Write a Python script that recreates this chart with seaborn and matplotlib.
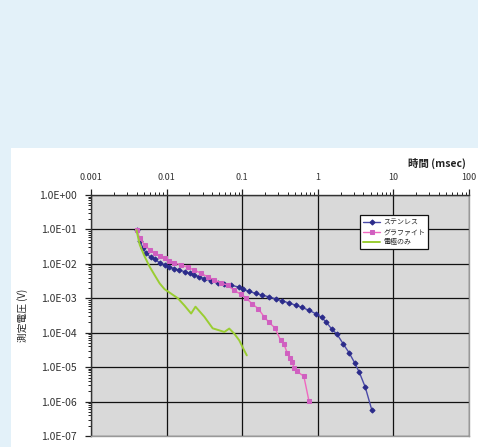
import matplotlib
matplotlib.use("Agg")
import matplotlib.pyplot as plt
import matplotlib.ticker as mticker
from matplotlib.patches import Rectangle
import seaborn as sns
import pandas as pd

# ---- data (time in msec, voltage in V) ----
stainless_t = [0.004, 0.00442, 0.00488, 0.0054, 0.00615, 0.00695, 0.0081, 0.0094, 0.0109,
               0.0127, 0.0148, 0.0173, 0.0201, 0.0233, 0.0272, 0.0316, 0.0387, 0.0473,
               0.058, 0.071, 0.0914, 0.101, 0.124, 0.151, 0.185, 0.226, 0.277, 0.339,
               0.415, 0.509, 0.621, 0.762, 0.933, 1.12, 1.30, 1.54, 1.80, 2.16, 2.61,
               3.07, 3.54, 4.25, 5.18]
stainless_v = [0.095, 0.0471, 0.0283, 0.0202, 0.0155, 0.0135, 0.0108, 0.0092, 0.0082,
               0.0072, 0.0066, 0.0059, 0.0053, 0.0047, 0.0042, 0.0037, 0.0032, 0.0028,
               0.0026, 0.0024, 0.0021, 0.0018, 0.00158, 0.00138, 0.00123, 0.0011,
               0.00096, 0.00084, 0.00073, 0.00063, 0.00054, 0.00045, 0.00036, 0.00028,
               0.0002, 0.000125, 0.00009, 4.8e-5, 2.56e-5, 1.34e-5, 7.1e-6, 2.6e-6, 5.7e-7]

graphite_t = [0.004, 0.00442, 0.00514, 0.00598, 0.00695, 0.0081, 0.0094, 0.0109, 0.0127,
              0.0156, 0.0191, 0.0233, 0.0286, 0.0349, 0.0428, 0.0525, 0.0641, 0.0785,
              0.096, 0.112, 0.134, 0.163, 0.195, 0.226, 0.269, 0.323, 0.357, 0.395,
              0.428, 0.459, 0.49, 0.534, 0.654, 0.762]
graphite_v = [0.095, 0.0554, 0.0353, 0.0252, 0.0202, 0.0169, 0.0145, 0.0123, 0.0108,
              0.0092, 0.0079, 0.0066, 0.0053, 0.0042, 0.0034, 0.0028, 0.0024, 0.0017,
              0.0013, 0.00105, 0.0007, 0.0005, 0.00029, 0.0002, 0.00014, 6.0e-5, 4.6e-5,
              2.56e-5, 1.9e-5, 1.4e-5, 9.2e-6, 7.5e-6, 5.4e-6, 1.07e-6]

electrode_t = [0.004, 0.00442, 0.00514, 0.00598, 0.00695, 0.0081, 0.0094, 0.0115, 0.0141,
               0.0173, 0.0211, 0.0241, 0.0316, 0.0407, 0.0498, 0.058, 0.0674, 0.0785,
               0.0914, 0.106, 0.115]
electrode_v = [0.095, 0.0353, 0.0161, 0.0082, 0.0047, 0.0027, 0.00184, 0.00136, 0.001,
               0.00061, 0.00036, 0.00057, 0.00029, 0.000134, 0.000117, 0.000105,
               0.000132, 9.4e-5, 6.0e-5, 3.1e-5, 2.2e-5]

series_names = ["ステンレス", "グラファイト", "電極のみ"]
x_ticks = [0.001, 0.01, 0.1, 1, 10, 100]
x_ticklabels = ["0.001", "0.01", "0.1", "1", "10", "100"]
y_ticks = [1e0, 1e-1, 1e-2, 1e-3, 1e-4, 1e-5, 1e-6, 1e-7]
y_ticklabels = ["1.0E+00", "1.0E-01", "1.0E-02", "1.0E-03", "1.0E-04",
                "1.0E-05", "1.0E-06", "1.0E-07"]

sns.set_theme(style="white")
plt.rcParams['font.family'] = ['Noto Sans CJK JP', 'DejaVu Sans']

fig = plt.figure(figsize=(4.78, 4.47), dpi=100)
fig.patch.set_facecolor("#e3f1f9")
# white panel
fig.patches.append(Rectangle((11 / 478, 0), 1 - 11 / 478, 1 - 148 / 447,
                             transform=fig.transFigure, facecolor="white",
                             edgecolor="none", zorder=-5))

ax = fig.add_axes([91 / 478, 1 - 436 / 447, (469 - 91) / 478, (436 - 195) / 447])
ax.set_zorder(2)
ax.set_facecolor("#d9d9d9")

df = pd.concat([
    pd.DataFrame({"t": stainless_t, "v": stainless_v, "s": series_names[0]}),
    pd.DataFrame({"t": graphite_t, "v": graphite_v, "s": series_names[1]}),
    pd.DataFrame({"t": electrode_t, "v": electrode_v, "s": series_names[2]}),
])

styles = {
    series_names[0]: dict(color="#4a4aa8", marker="D", ms=2.6, mfc="#2b2b8a", mec="#2b2b8a", lw=1.0),
    series_names[1]: dict(color="#f068c0", marker="s", ms=3.2, mfc="#d060c0", mec="#d060c0", lw=1.0),
    series_names[2]: dict(color="#9acd32", marker=None, ms=0, mfc="none", mec="none", lw=1.4),
}
for name in series_names:
    st = styles[name]
    sub = df[df["s"] == name]
    sns.lineplot(data=sub, x="t", y="v", ax=ax, sort=False, estimator=None,
                 color=st["color"], linewidth=st["lw"], marker=st["marker"],
                 markersize=st["ms"], markerfacecolor=st["mfc"],
                 markeredgecolor=st["mec"], label=name, zorder=3)

ax.set_xscale("log")
ax.set_yscale("log")
ax.set_xlim(0.001, 100)
ax.set_ylim(1e-7, 1)

ax.xaxis.tick_top()
ax.xaxis.set_label_position("top")
ax.set_xticks(x_ticks)
ax.set_xticklabels(x_ticklabels)
ax.set_yticks(y_ticks)
ax.set_yticklabels(y_ticklabels)
ax.xaxis.set_minor_locator(mticker.LogLocator(base=10, subs=tuple(range(2, 10)), numticks=20))
ax.yaxis.set_minor_locator(mticker.LogLocator(base=10, subs=tuple(range(2, 10)), numticks=20))
ax.xaxis.set_minor_formatter(mticker.NullFormatter())
ax.yaxis.set_minor_formatter(mticker.NullFormatter())
ax.tick_params(axis="both", which="major", colors="#222222",
               length=4, width=0.9, direction="out")
ax.tick_params(axis="both", which="minor", length=2.5, width=0.7,
               direction="out", colors="#222222")
ax.tick_params(axis="x", which="both", top=True, bottom=False, labelsize=6.5, pad=5)
ax.tick_params(axis="y", which="both", left=True, right=False, labelsize=7.5, pad=6)
for lab in ax.get_xticklabels() + ax.get_yticklabels():
    lab.set_color("#333333")

ax.grid(True, which="major", color="#111111", linewidth=0.9)
ax.grid(False, which="minor")
for side, sp in ax.spines.items():
    sp.set_visible(True)
    sp.set_color("#333333" if side in ("left", "top") else "#999999")
    sp.set_linewidth(1.0)

ax.set_xlabel("")
ax.set_ylabel("測定電圧 (V)", fontsize=7, color="#222222", labelpad=8)
fig.text(437 / 478, 1 - 163 / 447, "時間 (msec)", fontsize=7.5, fontweight="bold",
         color="#222222", ha="center", va="center")

leg = ax.legend(loc="upper left", bbox_to_anchor=(0.703, 0.93), fontsize=5,
                frameon=True, fancybox=False, handlelength=2.5, borderpad=0.4,
                labelspacing=0.3, handletextpad=0.4)
leg.get_frame().set_edgecolor("#111111")
leg.get_frame().set_linewidth(0.9)
leg.get_frame().set_facecolor("white")
leg.get_frame().set_alpha(1)

fig.savefig("out.png", dpi=100, facecolor=fig.get_facecolor())
